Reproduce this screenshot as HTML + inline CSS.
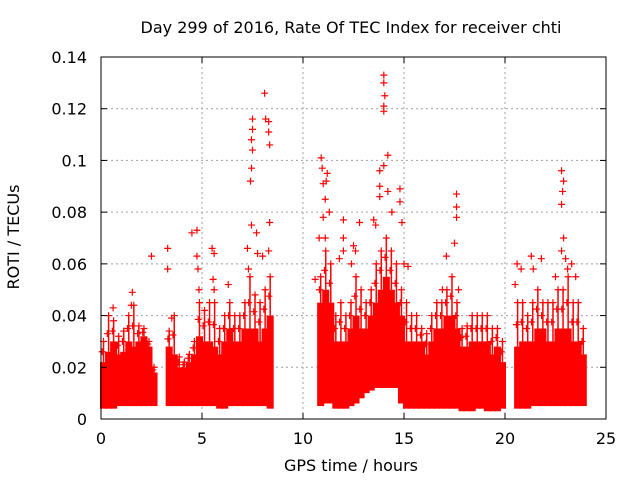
<!DOCTYPE html>
<html><head><meta charset="utf-8"><style>
html,body{margin:0;padding:0;background:#fff;}
svg{display:block;font-family:"DejaVu Sans","Liberation Sans",sans-serif;}
</style></head><body>
<svg id="chart" width="640" height="480">
<rect x="0" y="0" width="640" height="480" fill="#fff"/>
<text x="351" y="33" font-size="16" text-anchor="middle" fill="#000">Day 299 of 2016, Rate Of TEC Index for receiver chti</text>
<g id="grid"></g>
<g id="marks"></g>
<rect x="101" y="57" width="505" height="362" fill="none" stroke="#000" stroke-width="1"/>
<g id="ticks"></g>
<text x="351" y="471" font-size="16" text-anchor="middle">GPS time / hours</text>
<text x="19" y="237" font-size="16" text-anchor="middle" transform="rotate(-90 19 237)">ROTI / TECUs</text>
</svg>
<script>
const xTicks=[0,5,10,15,20,25];
const yTicks=[0,0.02,0.04,0.06,0.08,0.1,0.12,0.14];
const yTickLabels=["0","0.02","0.04","0.06","0.08","0.1","0.12","0.14"];
const binStart=0, binWidth=0.25;
const denseHi=[0.022,0.026,0.03,0.025,0.026,0.03,0.028,0.03,0.032,0.028,0.018,null,null,0.028,0.025,0.02,0.02,0.022,0.025,0.032,0.03,0.03,0.028,0.025,0.03,0.035,0.03,0.03,0.035,0.035,0.035,0.03,0.035,0.04,null,null,null,null,null,null,null,null,null,0.045,0.05,0.045,0.03,0.03,0.03,0.035,0.04,0.035,0.035,0.04,0.045,0.05,0.055,0.05,0.045,0.04,0.03,0.03,0.03,0.03,0.025,0.03,0.035,0.035,0.04,0.04,0.035,0.028,0.028,0.03,0.03,0.03,0.03,0.025,0.028,0.022,null,null,0.028,0.03,0.03,0.03,0.035,0.035,0.03,0.03,0.035,0.035,0.035,0.03,0.03,0.025];
const denseLo=[0.004,0.004,0.004,0.005,0.005,0.005,0.005,0.005,0.005,0.005,0.005,null,null,0.005,0.005,0.005,0.005,0.005,0.005,0.005,0.005,0.005,0.005,0.004,0.004,0.005,0.005,0.005,0.005,0.005,0.005,0.005,0.005,0.004,null,null,null,null,null,null,null,null,null,0.005,0.006,0.006,0.004,0.004,0.004,0.005,0.006,0.008,0.01,0.011,0.012,0.012,0.012,0.012,0.012,0.006,0.004,0.004,0.004,0.004,0.004,0.004,0.004,0.004,0.004,0.004,0.004,0.003,0.003,0.003,0.004,0.004,0.003,0.003,0.003,0.004,null,null,0.004,0.004,0.004,0.005,0.005,0.005,0.005,0.005,0.005,0.005,0.005,0.005,0.005,0.005];
const spreadHi=[0.03,0.04,0.038,0.032,0.034,0.04,0.044,0.036,0.035,0.03,0.02,null,null,0.034,0.04,0.024,0.022,0.025,0.03,0.045,0.042,0.045,0.045,0.035,0.04,0.045,0.04,0.04,0.045,0.055,0.048,0.045,0.05,0.055,null,null,null,null,null,null,null,null,null,0.055,0.065,0.06,0.04,0.045,0.04,0.045,0.055,0.05,0.045,0.05,0.06,0.065,0.07,0.065,0.06,0.05,0.045,0.04,0.04,0.035,0.033,0.04,0.045,0.045,0.05,0.055,0.045,0.035,0.036,0.04,0.04,0.04,0.04,0.035,0.035,0.03,null,null,0.045,0.045,0.04,0.045,0.05,0.045,0.045,0.045,0.05,0.05,0.055,0.045,0.045,0.035];
const outX=[0.6,1.55,1.5,2.5,3.3,3.3,3.5,4.5,4.75,4.75,4.8,4.85,5.5,5.6,5.55,5.6,6.3,7.25,7.3,7.5,7.5,7.45,7.5,7.45,7.4,7.45,7.7,7.75,8.1,8.15,8.3,8.3,8.35,8.35,8.3,8.0,10.9,10.95,11.0,11.2,11.15,11.1,11.3,11.0,10.8,11.1,10.6,12.0,12.0,12.0,11.8,12.8,12.5,12.6,12.4,14.0,14.0,14.05,14.0,14.0,14.2,14.0,13.8,13.8,13.8,14.2,14.4,13.5,13.6,14.8,14.8,14.9,15.0,15.2,17.6,17.6,17.6,17.5,17.1,17.7,16.9,20.6,20.8,20.5,22.8,22.9,22.85,22.8,22.9,22.8,23.0,23.3,23.1,21.3,21.4,21.8,22.5,23.5];
const outY=[0.043,0.049,0.044,0.063,0.066,0.058,0.039,0.072,0.073,0.063,0.058,0.05,0.066,0.064,0.054,0.05,0.052,0.066,0.058,0.116,0.112,0.108,0.104,0.097,0.092,0.075,0.072,0.064,0.126,0.116,0.115,0.111,0.106,0.076,0.065,0.063,0.101,0.097,0.091,0.095,0.092,0.085,0.08,0.078,0.07,0.07,0.054,0.077,0.07,0.065,0.062,0.076,0.067,0.065,0.06,0.133,0.13,0.125,0.121,0.119,0.102,0.098,0.096,0.09,0.086,0.088,0.08,0.077,0.075,0.089,0.084,0.076,0.06,0.059,0.087,0.082,0.078,0.068,0.063,0.05,0.05,0.06,0.058,0.052,0.096,0.092,0.088,0.083,0.07,0.065,0.062,0.06,0.058,0.063,0.058,0.062,0.055,0.055];

const X0=101,X1=606,Y0=419,Y1=57;
const xs=v=>X0+(v-0)/25*(X1-X0);
const ys=v=>Y0-(v-0)/0.14*(Y0-Y1);
const NS="http://www.w3.org/2000/svg";
const grid=document.getElementById('grid'),ticks=document.getElementById('ticks'),marks=document.getElementById('marks');
function mk(tag,attrs,parent){const e=document.createElementNS(NS,tag);for(const k in attrs)e.setAttribute(k,attrs[k]);parent.appendChild(e);return e;}
xTicks.forEach((t,i)=>{
 const x=xs(t);
 if(i>0&&i<xTicks.length-1){const g=mk('line',{x1:x,x2:x,y1:Y1,y2:Y0,stroke:'#a0a0a0','stroke-dasharray':'2,3'},grid);
 
 }
 const tl=mk('line',{x1:x,x2:x,y1:Y0,y2:Y0-6,stroke:'#000'},ticks);
 
 
 mk('line',{x1:x,x2:x,y1:Y1,y2:Y1+6,stroke:'#000'},ticks);
 const tx=mk('text',{x:x,y:444,'font-size':16,'text-anchor':'middle'},ticks);tx.textContent=t;
 
 
});
yTicks.forEach((t,i)=>{
 const y=ys(t);
 if(i>0&&i<yTicks.length-1){const g=mk('line',{x1:X0,x2:X1,y1:y,y2:y,stroke:'#a0a0a0','stroke-dasharray':'2,3'},grid);
 
 }
 const tl=mk('line',{x1:X0,x2:X0+6,y1:y,y2:y,stroke:'#000'},ticks);
 
 
 mk('line',{x1:X1,x2:X1-6,y1:y,y2:y,stroke:'#000'},ticks);
 const tx=mk('text',{x:87,y:y+6,'font-size':16,'text-anchor':'end'},ticks);tx.textContent=yTickLabels[i];
 
 
});
function plus(h,v,name){
 const x=xs(h),y=ys(v);
 const p=mk('path',{d:`M${x-3.5},${y}H${x+3.5}M${x},${y-3.5}V${y+3.5}`,stroke:'#ff0000','stroke-width':1.2,fill:'none'},marks);
 
 
}
denseHi.forEach((hi,i)=>{
 if(hi===null)return;
 const h=binStart+i*binWidth;
 const r=mk('rect',{x:xs(h)-1,y:ys(hi),width:xs(h+binWidth)-xs(h)+2,height:ys(denseLo[i])-ys(hi),fill:'#ff0000'},marks);
 
 
 const s=spreadHi[i];
 if(s!==null&&s>hi){
  const l=mk('line',{x1:xs(h+binWidth/2),x2:xs(h+binWidth/2),y1:ys(s),y2:ys(hi),stroke:'#ff0000','stroke-width':1.5},marks);
  
  
  plus(h+binWidth/2,s,'spread-point');
  plus(h+binWidth/4,(s+hi)/2,'spread-point');
 }
});
outX.forEach((h,i)=>plus(h,outY[i],'outlier-point'));
</script>
</body></html>
